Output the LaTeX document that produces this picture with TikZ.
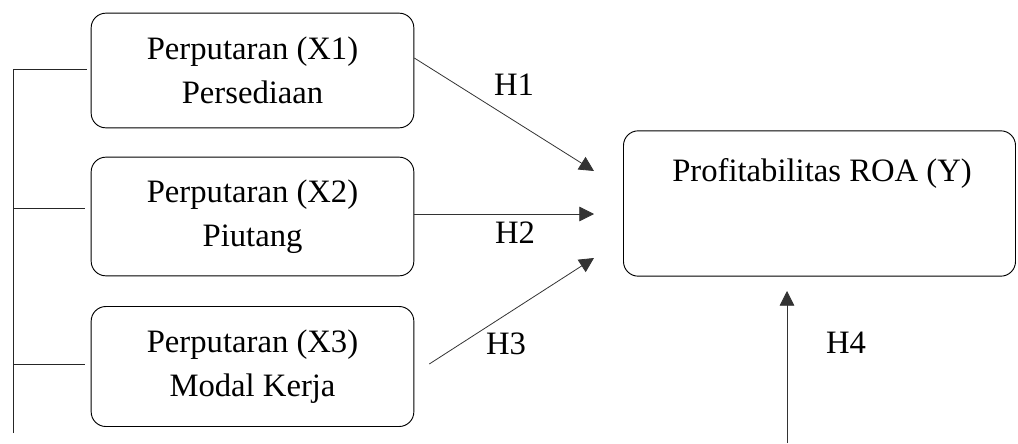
\documentclass[tikz,border=0pt]{standalone}
\usepackage{fontspec}
\setmainfont{Liberation Serif}
\usetikzlibrary{arrows.meta,positioning,calc}
\tikzset{
  varbox/.style={draw, rounded corners=11pt, minimum width=242pt, align=center, line width=0.7pt, inner sep=0pt},
  hyp/.style={-{Triangle[length=11pt,width=11pt]}, line width=0.6pt, black!80},
  link/.style={line width=0.7pt, black!85},
}
\begin{document}
\begin{tikzpicture}[x=0.75pt,y=-0.75pt,font=\fontsize{24.5}{33}\selectfont]
  \useasboundingbox (0,0) rectangle (1018,443);
  % variabel X
  \node[varbox, minimum height=86pt] (x1) at (252.5,70.5) {Perputaran (X1)\\Persediaan};
  \node[varbox, minimum height=89pt] (x2) at (252.5,216.5) {Perputaran (X2)\\Piutang};
  \node[varbox, minimum height=90pt] (x3) at (252.5,366.5) {Perputaran (X3)\\Modal Kerja};
  % variabel Y
  \node[varbox, minimum width=294pt, minimum height=109pt] (roa) at (819.5,203.5) {};
  \node (roatext) at (822,173) {Profitabilitas ROA (Y)};
  % ujung panah
  \coordinate (t1) at (594,171);
  \coordinate (t2) at (594,214);
  \coordinate (t3) at (594,258);
  \coordinate (t4) at (787,291);
  \coordinate (s4) at (787,443);
  \draw[hyp] ($(x1.east)+(0,-12.5)$) -- (t1);
  \draw[hyp] (x2.east |- t2) -- (t2);
  \draw[hyp] ($(x3.east)+(15,-2.5)$) -- (t3);
  \draw[hyp] (s4) -- (t4);
  \node (h1) at (514,85) {H1};
  \node (h2) at (515,233) {H2};
  \node (h3) at (506,344) {H3};
  \node (h4) at (846,343) {H4};
  % garis kiri
  \coordinate (ltop) at (13,69);
  \coordinate (lbot) at (13,433);
  \draw[link] (lbot) -- (ltop) -- ($(x1.west)+(-4,-1.5)$);
  \draw[link] (ltop |- 0,208) -- ($(x2.west)+(-6,-8.5)$);
  \draw[link] (ltop |- 0,364) -- ($(x3.west)+(-6,-2.5)$);
\end{tikzpicture}
\end{document}
